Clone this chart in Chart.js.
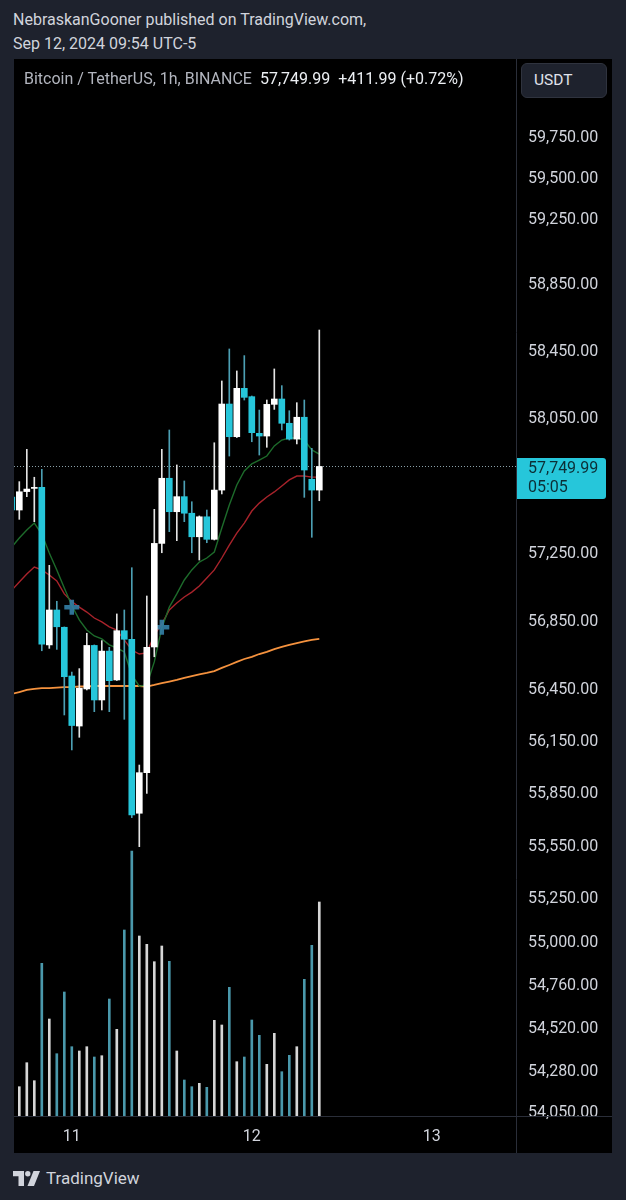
<!DOCTYPE html>
<html>
<head>
<meta charset="utf-8">
<script src="https://cdn.jsdelivr.net/npm/chart.js@4.4.1/dist/chart.umd.min.js"></script>
<style>
  html, body { margin: 0; padding: 0; }
  body { width: 626px; height: 1200px; background: #1e222d; font-family: Roboto, sans-serif; color: #d1d4dc; position: relative; overflow: hidden; }
  #pub { position: absolute; left: 13px; top: 8px; font-size: 16px; line-height: 24px; }
  #box { position: absolute; left: 14px; top: 59px; width: 598px; height: 1094px; background: #000; }
  #chart { position: absolute; left: 0; top: 0; }
  #legend { position: absolute; left: 10px; top: 10px; font-size: 16px; line-height: 20px; white-space: nowrap; }
  #legend .sym { color: #b2b5be; margin-right: 8px; }
  #legend .val { color: #eceff3; margin-right: 8px; }
  #unit { position: absolute; left: 507px; top: 4px; width: 86px; height: 35px; box-sizing: border-box; background: #1e222d; border: 1px solid #2f333e; border-radius: 6px; font-size: 15.5px; line-height: 33px; padding-left: 12px; color: #e0e3eb; }
  #footer { position: absolute; left: 13px; top: 1166px; height: 24px; display: flex; align-items: center; font-size: 17px; color: #d1d4dc; }
  #footer svg { margin-right: 6px; }
</style>
</head>
<body>
<div id="pub">NebraskanGooner published on TradingView.com,<br>Sep 12, 2024 09:54 UTC-5</div>
<div id="box">
  <canvas id="chart" width="598" height="1094"></canvas>
  <div id="legend"><span class="sym">Bitcoin / TetherUS, 1h, BINANCE</span><span class="val" id="last"></span><span class="val" id="chg"></span></div>
  <div id="unit">USDT</div>
</div>
<div id="footer">
  <svg width="27" height="15" viewBox="0 0 27 15"><path d="M0 0H11V15H5.5V5.2H0Z" fill="#d1d4dc"/><circle cx="14.8" cy="2.8" r="2.7" fill="#d1d4dc"/><path d="M20.5 0H27L21 15H14.5Z" fill="#d1d4dc"/></svg>
  <span>TradingView</span>
</div>
<script>
// hourly candles, Sep 10 16:00 .. Sep 12 09:00 (UTC-5)
var times = [
  '09-10 16:00','09-10 17:00','09-10 18:00','09-10 19:00','09-10 20:00','09-10 21:00','09-10 22:00','09-10 23:00',
  '09-11 00:00','09-11 01:00','09-11 02:00','09-11 03:00','09-11 04:00','09-11 05:00','09-11 06:00','09-11 07:00',
  '09-11 08:00','09-11 09:00','09-11 10:00','09-11 11:00','09-11 12:00','09-11 13:00','09-11 14:00','09-11 15:00',
  '09-11 16:00','09-11 17:00','09-11 18:00','09-11 19:00','09-11 20:00','09-11 21:00','09-11 22:00','09-11 23:00',
  '09-12 00:00','09-12 01:00','09-12 02:00','09-12 03:00','09-12 04:00','09-12 05:00','09-12 06:00','09-12 07:00',
  '09-12 08:00','09-12 09:00'
];
var opens = [57569,57492,57601,57620,57626,56700,56904,56803,56519,56229,56444,56697,56380,56664,56496,56783,
  56733,55727,55960,56688,57295,57680,57482,57571,57473,57334,57452,57319,57610,58122,57927,58216,
  58166,57947,57931,58120,58152,58007,57913,58043,57674,57610];
var highs = [57610,57660,57852,57686,57733,57166,56955,56805,56542,56562,56768,56700,56725,56686,56881,56904,
  57152,56004,56986,57496,57852,57967,57759,57664,57541,57457,57492,57891,58260,58452,58320,58412,
  58170,58086,58146,58332,58232,58082,58130,58146,57858,58566];
var lows = [57463,57437,57571,57423,56666,56680,56674,56293,56091,56164,56438,56312,56322,56312,56493,56268,
  55702,55536,55841,56631,57240,57364,57311,57423,57240,57197,57299,57315,57587,57812,57922,58146,
  57897,57818,57864,58090,57967,57907,57884,57567,57331,57547];
var closes = [57492,57600,57616,57626,56705,56904,56806,56515,56232,56448,56697,56380,56664,56492,56783,56733,
  55717,55960,56686,57295,57680,57482,57571,57473,57334,57452,57319,57610,58122,57927,58216,58162,
  57951,57931,58120,58152,58007,57913,58043,57729,57610,57749.99];
var volumes = [410,293,533,353,1527,970,623,1240,693,650,693,590,603,1170,867,1860,
  2650,1800,1717,1543,1700,1547,650,360,293,327,287,957,910,1287,543,590,
  960,807,517,827,443,607,693,1367,1707,2140];
var emaFast = [57274,57327,57374,57415,57350,57238,57139,57033,56930,56846,56787,56752,56735,56700,56682,56659,
  56525,56460,56467,56601,56799,56921,56998,57080,57139,57185,57209,57244,57386,57522,57640,57723,
  57765,57788,57812,57872,57907,57919,57919,57907,57848,57824];
var emaSlow = [57021,57068,57115,57156,57139,57109,57074,56998,56954,56921,56892,56857,56834,56805,56787,56729,
  56670,56647,56653,56758,56822,56904,56945,56980,57009,57045,57092,57139,57209,57285,57356,57415,
  57486,57533,57569,57599,57634,57670,57693,57693,57687,57687];
var ma200 = [56415,56426,56438,56444,56449,56449,56452,56455,56455,56458,56458,56461,56461,56461,56461,56461,
  56461,56461,56458,56467,56478,56487,56496,56508,56519,56528,56537,56548,56566,56583,56601,56618,
  56630,56647,56659,56676,56688,56700,56711,56720,56729,56735];
var crossSignals = [null,null,null,null,null,null,null,null,56920,null,null,null,null,null,null,null,
  null,null,null,null,56803,null,null,null,null,null,null,null,null,null,null,null,
  null,null,null,null,null,null,null,null,null,null];

var priceTicks = [59750,59500,59250,58850,58450,58050,57250,56850,56450,56150,55850,55550,55250,55000,54760,54520,54280,54050];
var dayLabels = ['11','12','13'];
var changeAbs = 411.99;
var changePct = 0.72;
var countdown = '05:05';

var UP = '#ffffff', DOWN = '#26c6da';
var WICK_UP = '#e4e4e4', WICK_DOWN = '#4c9fb3';
var VOL_UP = '#d6d6d6', VOL_DOWN = '#4a98ab';

function fmt(v) {
  return v.toLocaleString('en-US', {minimumFractionDigits: 2, maximumFractionDigits: 2});
}
var lastClose = closes[closes.length - 1];
document.getElementById('last').textContent = fmt(lastClose);
document.getElementById('chg').textContent = '+' + fmt(changeAbs) + ' (+' + changePct.toFixed(2) + '%)';

// day ticks: hours since first candle (Sep 10 16:00)
var dayTickPos = dayLabels.map(function (d) { return (parseInt(d) - 10) * 24 - 16; });

var idx = times.map(function (t, i) { return i; });
function isUp(i) { return closes[i] >= opens[i]; }

var frame = {
  id: 'frame',
  beforeDatasetsDraw: function (chart) {
    var ctx = chart.ctx, a = chart.chartArea;
    var py = Math.round(chart.scales.y.getPixelForValue(lastClose)) + 0.5;
    ctx.save();
    ctx.strokeStyle = '#8aa0a8';
    ctx.lineWidth = 1;
    ctx.setLineDash([1, 2]);
    ctx.beginPath();
    ctx.moveTo(a.left, py);
    ctx.lineTo(a.right, py);
    ctx.stroke();
    ctx.restore();
  },
  afterDraw: function (chart) {
    var ctx = chart.ctx, a = chart.chartArea;
    ctx.save();
    ctx.strokeStyle = '#2a2e39';
    ctx.lineWidth = 1;
    ctx.beginPath();
    ctx.moveTo(a.right + 0.5, 0);
    ctx.lineTo(a.right + 0.5, chart.height);
    ctx.moveTo(0, a.bottom + 0.5);
    ctx.lineTo(chart.width, a.bottom + 0.5);
    ctx.stroke();

    // last price tag
    var py = Math.round(chart.scales.y.getPixelForValue(lastClose));
    ctx.fillStyle = DOWN;
    ctx.beginPath();
    ctx.roundRect(a.right + 1, py - 8, 89, 41, [0, 3, 3, 0]);
    ctx.fill();
    ctx.fillStyle = '#0c2e36';
    ctx.font = '16px Roboto';
    ctx.textBaseline = 'middle';
    ctx.textAlign = 'left';
    ctx.fillText(fmt(lastClose), a.right + 12, py + 2.5);
    ctx.fillText(countdown, a.right + 12, py + 22);
    ctx.restore();
  }
};

Chart.defaults.font.family = 'Roboto';

new Chart(document.getElementById('chart'), {
  type: 'bar',
  data: {
    datasets: [
      {
        label: 'body',
        data: idx.map(function (i) { return {x: i, y: [opens[i], closes[i]]}; }),
        backgroundColor: function (c) { return isUp(c.dataIndex) ? UP : DOWN; },
        barThickness: 6,
        minBarLength: 1,
        grouped: false,
        order: 0
      },
      {
        label: 'wick',
        data: idx.map(function (i) { return {x: i, y: [lows[i], highs[i]]}; }),
        backgroundColor: function (c) { return isUp(c.dataIndex) ? WICK_UP : WICK_DOWN; },
        barThickness: 1,
        grouped: false,
        order: 1
      },
      {
        type: 'line',
        label: 'cross',
        data: idx.filter(function (i) { return crossSignals[i] !== null; })
                 .map(function (i) { return {x: i, y: crossSignals[i]}; }),
        showLine: false,
        pointStyle: 'cross',
        pointRadius: 7.5,
        pointBorderWidth: 4.5,
        pointBorderColor: 'rgba(52,128,166,0.9)',
        order: 2
      },
      {
        type: 'line',
        label: 'EMA fast',
        data: idx.map(function (i) { return {x: i, y: emaFast[i]}; }),
        borderColor: '#1d6b2b',
        borderWidth: 1.4,
        pointRadius: 0,
        order: 3
      },
      {
        type: 'line',
        label: 'EMA slow',
        data: idx.map(function (i) { return {x: i, y: emaSlow[i]}; }),
        borderColor: '#a8232b',
        borderWidth: 1.4,
        pointRadius: 0,
        order: 4
      },
      {
        type: 'line',
        label: 'MA 200',
        data: idx.map(function (i) { return {x: i, y: ma200[i]}; }),
        borderColor: '#f5923e',
        borderWidth: 1.8,
        pointRadius: 0,
        order: 5
      },
      {
        label: 'volume',
        yAxisID: 'yv',
        data: idx.map(function (i) { return {x: i, y: volumes[i]}; }),
        backgroundColor: function (c) { return isUp(c.dataIndex) ? VOL_UP : VOL_DOWN; },
        barThickness: 2,
        grouped: false,
        order: 6
      }
    ]
  },
  options: {
    responsive: false,
    animation: false,
    devicePixelRatio: 1,
    layout: {padding: 0, autoPadding: false},
    plugins: {legend: {display: false}, tooltip: {enabled: false}},
    scales: {
      x: {
        type: 'linear',
        min: 0.2933,
        max: 67.227,
        bounds: 'data',
        offset: false,
        grid: {display: false, drawTicks: false},
        border: {display: false},
        afterBuildTicks: function (s) { s.ticks = dayTickPos.map(function (v) { return {value: v}; }); },
        afterFit: function (s) { s.height = 37; s.paddingLeft = 0; s.paddingRight = 0; },
        ticks: {
          padding: 11,
          color: '#d1d4dc',
          font: {size: 16},
          maxRotation: 0,
          autoSkip: false,
          callback: function (v, i) { return dayLabels[i]; }
        }
      },
      y: {
        type: 'logarithmic',
        position: 'right',
        min: 54019,
        max: 60221,
        bounds: 'data',
        grid: {display: false, drawTicks: false},
        border: {display: false},
        afterBuildTicks: function (s) { s.ticks = priceTicks.map(function (v) { return {value: v}; }); },
        afterFit: function (s) { s.width = 96; s.paddingTop = 0; s.paddingBottom = 0; },
        ticks: {
          padding: 12,
          labelOffset: 2.5,
          color: '#d1d4dc',
          font: {size: 16},
          autoSkip: false,
          callback: function (v) { return fmt(v); }
        }
      },
      yv: {
        type: 'linear',
        display: false,
        min: 0,
        max: 10570
      }
    }
  },
  plugins: [frame]
});
</script>
</body>
</html>
